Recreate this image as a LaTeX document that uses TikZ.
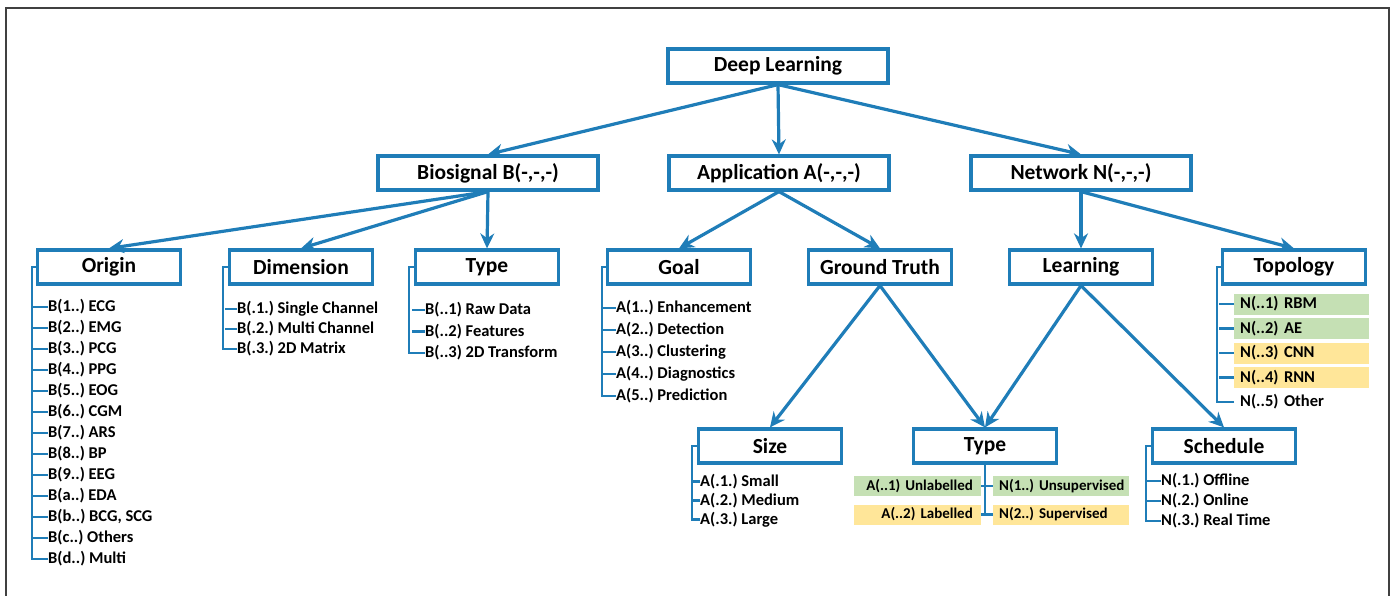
\documentclass[tikz,border=0pt]{standalone}
\usepackage{fontspec}
\setmainfont{Carlito}
\usetikzlibrary{arrows.meta}
\definecolor{dlblue}{RGB}{31,125,184}
\definecolor{dlgreen}{RGB}{197,224,180}
\definecolor{dlyellow}{RGB}{255,230,153}
\frenchspacing
\begin{document}
\begin{tikzpicture}[
        x=1pt,y=-1pt,
        >={Stealth[length=15pt,width=14pt]},
        box/.style={draw=dlblue,line width=3.2pt,minimum width=143pt,minimum height=34pt,inner sep=0pt,font=\fontsize{21.5}{25}\selectfont\bfseries},
        topbox/.style={box,minimum width=220pt},
        arr/.style={draw=dlblue,line width=3.2pt,->},
        rail/.style={draw=dlblue,line width=2.4pt},
        item/.style={anchor=west,inner sep=0pt,font=\fontsize{16.5}{19}\selectfont\bfseries},
        tag/.style={anchor=west,inner xsep=6pt,inner ysep=0pt,text width=123pt,align=left,minimum height=21pt,font=\fontsize{16.5}{19}\selectfont\bfseries},
        label/.style={inner ysep=0pt,minimum height=20pt,font=\fontsize{15}{18}\selectfont\bfseries},
        ]
        \useasboundingbox (0,0) rectangle (1395,596);
        \draw[black!75,line width=2pt] (6,596) -- (6,8) -- (1389,8) -- (1389,596);
        % boxes
        \node[topbox] (deep) at (778,66) {Deep Learning};
        \node[topbox] (bio) at (488,173) {Biosignal B(-,-,-)};
        \node[topbox] (app) at (779,173) {Application A(-,-,-)};
        \node[topbox] (net) at (1081,173) {Network N(-,-,-)};
        \node[box] (origin) at (109,267) {Origin};
        \node[box] (dim) at (301,267) {Dimension};
        \node[box] (btype) at (487,267) {Type};
        \node[box] (goal) at (679,267) {Goal};
        \node[box] (truth) at (880,267) {Ground Truth};
        \node[box] (learn) at (1081,267) {Learning};
        \node[box] (topo) at (1294,267) {Topology};
        \node[box] (size) at (770,446) {Size};
        \node[box] (gtype) at (985,446) {Type};
        \node[box] (sched) at (1224,446) {Schedule};
        % arrows
        \draw[arr] (deep.south) -- (bio.north);
        \draw[arr] (deep.south) -- (app.north);
        \draw[arr] (deep.south) -- (net.north);
        \draw[arr] (bio.south) -- (origin.north);
        \draw[arr] (bio.south) -- (dim.north);
        \draw[arr] (bio.south) -- (btype.north);
        \draw[arr] (app.south) -- (goal.north);
        \draw[arr] (app.south) -- (truth.north);
        \draw[arr] (net.south) -- (learn.north);
        \draw[arr] (net.south) -- (topo.north);
        \draw[arr] (truth.south) -- (size.north);
        \draw[arr] (truth.south) -- (gtype.north);
        \draw[arr] (learn.south) -- (gtype.north);
        \draw[arr] (learn.south) -- (sched.north);
        % origin
        \foreach \t [count=\i] in {B(1..) ECG,B(2..) EMG,B(3..) PCG,B(4..) PPG,B(5..) EOG,B(6..) CGM,B(7..) ARS,B(8..) BP,B(9..) EEG,B(a..) EDA,{B(b..) BCG, SCG},B(c..) Others,B(d..) Multi}{
          \node[item] (o\i) at (48,286+21*\i) {\t};
          \draw[rail] (o\i.west) -- ++(-15,0);
        }
        \draw[rail] (origin.west) -- ++(-4,0) |- (o13.west);
        % dimension
        \foreach \t [count=\i] in {B(.1.) Single Channel,B(.2.) Multi Channel,B(.3.) 2D Matrix}{
          \node[item] (d\i) at (237,289+20*\i) {\t};
          \draw[rail] (d\i.west) -- ++(-12,0);
        }
        \draw[rail] (dim.west) -- ++(-5,0) |- (d3.west);
        % type of biosignal
        \foreach \t [count=\i] in {B(..1) Raw Data,B(..2) Features,B(..3) 2D Transform}{
          \node[item] (t\i) at (425,288.5+21.5*\i) {\t};
          \draw[rail] (t\i.west) -- ++(-13,0);
        }
        \draw[rail] (btype.west) -- ++(-5,0) |- (t3.west);
        % goal
        \foreach \t [count=\i] in {A(1..) Enhancement,A(2..) Detection,A(3..) Clustering,A(4..) Diagnostics,A(5..) Prediction}{
          \node[item] (g\i) at (616,286+22*\i) {\t};
          \draw[rail] (g\i.west) -- ++(-13,0);
        }
        \draw[rail] (goal.west) -- ++(-4,0) |- (g5.west);
        % size
        \foreach \t [count=\i] in {A(.1.) Small,A(.2.) Medium,A(.3.) Large}{
          \node[item] (s\i) at (700,462.5+19*\i) {\t};
          \draw[rail] (s\i.west) -- ++(-7,0);
        }
        \draw[rail] (size.west) -- ++(-5,0) |- (s3.west);
        % schedule
        \foreach \t [count=\i] in {N(.1.) Offline,N(.2.) Online,N(.3.) Real Time}{
          \node[item] (h\i) at (1161,461+20*\i) {\t};
          \draw[rail] (h\i.west) -- ++(-14,0);
        }
        \draw[rail] (sched.west) -- ++(-5,0) |- (h3.west);
        % topology
        \foreach \t/\c [count=\i] in {N(..1) RBM/dlgreen,N(..2) AE/dlgreen,N(..3) CNN/dlyellow,N(..4) RNN/dlyellow,N(..5) Other/white}{
          \node[tag,fill=\c] (n\i) at (1234,279.5+24.5*\i) {\t};
          \draw[rail] (n\i.west) -- ++(-15,0);
        }
        \draw[rail] (topo.west) -- ++(-4,0) |- (n5.west);
        % type of ground truth
        \node[label,fill=dlgreen,anchor=east,text width=111pt,inner xsep=8pt,align=right] (al1) at (981,486) {\mbox{A(..1) Unlabelled}};
        \node[label,fill=dlyellow,anchor=east,text width=111pt,inner xsep=8pt,align=right] (al2) at (981,514.5) {\mbox{A(..2) Labelled}};
        \node[label,fill=dlgreen,anchor=west,text width=124pt,inner xsep=6pt,align=left] (nu1) at (993,486) {\mbox{N(1..) Unsupervised}};
        \node[label,fill=dlyellow,anchor=west,text width=124pt,inner xsep=6pt,align=left] (nu2) at (993,514.5) {\mbox{N(2..) Supervised}};
        \draw[rail] (gtype.south) -- (gtype.south |- al2.east);
        \draw[rail] (al1.east) -- (nu1.west);
        \draw[rail] (al2.east) -- (nu2.west);
\end{tikzpicture}
\end{document}
